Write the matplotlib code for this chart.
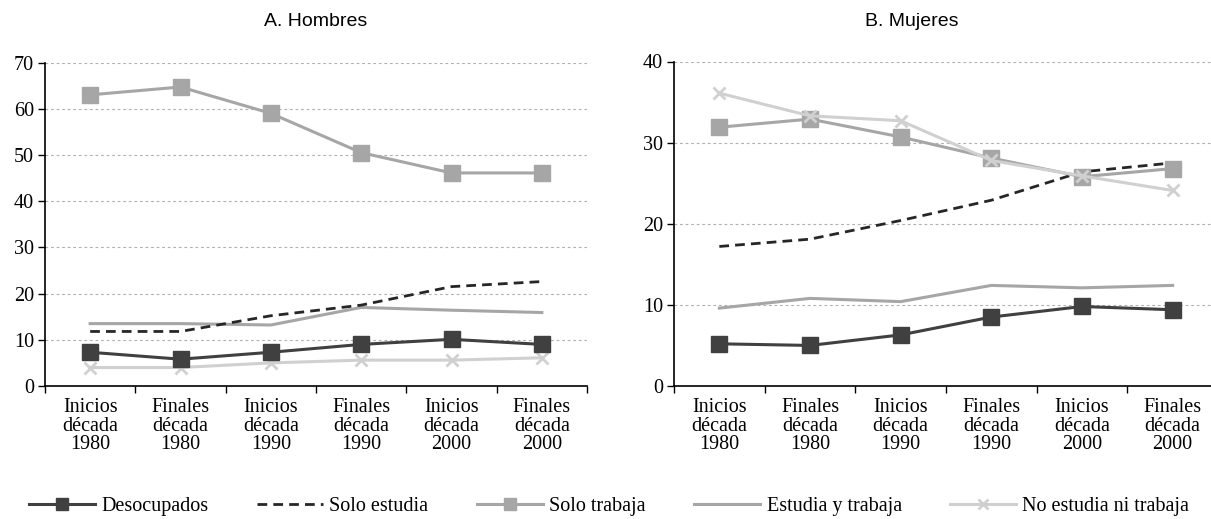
import numpy as np
import matplotlib
matplotlib.use("Agg")
import matplotlib.pyplot as plt

periods = ["Inicios\ndécada\n1980", "Finales\ndécada\n1980", "Inicios\ndécada\n1990",
           "Finales\ndécada\n1990", "Inicios\ndécada\n2000", "Finales\ndécada\n2000"]

# A. Hombres
h_desocupados = [7.3, 5.8, 7.3, 9.0, 10.1, 9.0]
h_solo_estudia = [11.8, 11.8, 15.2, 17.5, 21.5, 22.6]
h_solo_trabaja = [63.0, 64.7, 59.0, 50.5, 46.1, 46.1]
h_estudia_trabaja = [13.5, 13.5, 13.2, 17.0, 16.4, 15.9]
h_ninguno = [4.0, 4.0, 5.0, 5.6, 5.6, 6.1]

# B. Mujeres
m_desocupados = [5.2, 5.0, 6.3, 8.5, 9.8, 9.4]
m_solo_estudia = [17.2, 18.1, 20.4, 22.9, 26.4, 27.5]
m_solo_trabaja = [31.9, 32.9, 30.7, 28.1, 25.8, 26.8]
m_estudia_trabaja = [9.6, 10.8, 10.4, 12.4, 12.1, 12.4]
m_ninguno = [36.1, 33.3, 32.7, 27.8, 25.9, 24.1]

labels = ["Desocupados", "Solo estudia", "Solo trabaja", "Estudia y trabaja", "No estudia ni trabaja"]

serif = "Liberation Serif"
sans = "Liberation Sans"

fig = plt.figure(figsize=(12.11, 5.19), dpi=100)
ax1 = fig.add_axes([45 / 1211, 1 - 386 / 519, 542 / 1211, 323.5 / 519])
ax2 = fig.add_axes([674 / 1211, 1 - 386 / 519, 544 / 1211, 324.5 / 519])

x = np.arange(len(periods))


def draw(ax, series, ymax, step):
    d, se, st, et, nn = series
    ax.plot(x, et, color="#a6a6a6", lw=2.2, zorder=3)
    ax.plot(x, se, color="#262626", lw=2.0, ls=(0, (3.5, 2.2)), zorder=4)
    ax.plot(x, st, color="#a6a6a6", lw=2.2, marker="s", ms=11, zorder=5)
    ax.plot(x, nn, color="#d0d0d0", lw=2.2, marker="x", ms=8.5, mew=2, zorder=6)
    ax.plot(x, d, color="#404040", lw=2.2, marker="s", ms=11, zorder=7)
    ax.set_xlim(-0.5, len(periods) - 0.5)
    ax.set_ylim(0, ymax)
    ax.set_yticks(np.arange(0, ymax + 1, step))
    ax.set_xticks(np.arange(-0.5, len(periods), 1.0))
    ax.set_xticklabels([])
    ax.set_xticks(x, minor=True)
    ax.set_xticklabels(periods, minor=True, fontfamily=serif, fontsize=14.5, linespacing=0.95)
    ax.tick_params(axis="x", which="minor", length=0, pad=9)
    ax.tick_params(axis="x", which="major", direction="out", length=5, width=1)
    ax.tick_params(axis="y", direction="out", length=5, width=1, labelsize=14.5, pad=3)
    for t in ax.get_yticklabels():
        t.set_fontfamily(serif)
    ax.grid(axis="y", color="#b0b0b0", ls=(0, (2.5, 2.5)), lw=0.8)
    ax.set_axisbelow(True)
    for s in ["top", "right"]:
        ax.spines[s].set_visible(False)
    for s in ["left", "bottom"]:
        ax.spines[s].set_color("black")
        ax.spines[s].set_linewidth(1.2)


draw(ax1, [h_desocupados, h_solo_estudia, h_solo_trabaja, h_estudia_trabaja, h_ninguno], 70, 10)
draw(ax2, [m_desocupados, m_solo_estudia, m_solo_trabaja, m_estudia_trabaja, m_ninguno], 40, 10)

fig.text(316 / 1211, 1 - 22 / 519, "A. Hombres", ha="center", va="center", fontfamily=sans, fontsize=14)
fig.text(912 / 1211, 1 - 22 / 519, "B. Mujeres", ha="center", va="center", fontfamily=sans, fontsize=14)

handles = ax1.get_lines()
order = [4, 1, 2, 0, 3]
leg = fig.legend([handles[i] for i in order], labels, loc="center", ncol=5,
                 bbox_to_anchor=(0.503, 1 - 506 / 519), frameon=False,
                 prop={"family": serif, "size": 14.5}, handlelength=3.3,
                 columnspacing=2.4, handletextpad=0.3, markerscale=0.8)

fig.savefig("out.png", dpi=100)
